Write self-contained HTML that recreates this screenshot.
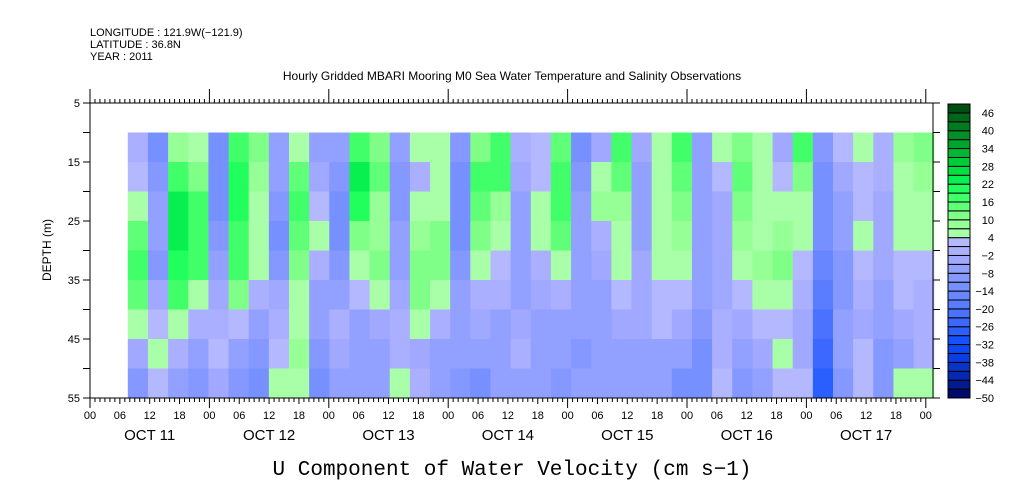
<!DOCTYPE html>
<html><head><meta charset="utf-8"><style>
body{margin:0;background:#fff;width:1009px;height:504px;overflow:hidden}
svg{display:block}
text{font-family:"Liberation Sans",sans-serif;fill:#000}
</style></head><body>
<svg id="chart" width="1009" height="504" viewBox="0 0 1009 504">
<text x="90" y="36" font-size="11">LONGITUDE : 121.9W(−121.9)</text>
<text x="90" y="48" font-size="11">LATITUDE : 36.8N</text>
<text x="90" y="60" font-size="11">YEAR : 2011</text>
<text x="512" y="80" font-size="12" text-anchor="middle">Hourly Gridded MBARI Mooring M0 Sea Water Temperature and Salinity Observations</text>
<text x="0" y="0" font-size="12" text-anchor="middle" transform="translate(51,250) rotate(-90)">DEPTH (m)</text>
<text x="512" y="475" font-size="21" text-anchor="middle" style="font-family:'Liberation Mono',monospace">U Component of Water Velocity (cm s−1)</text>
<g id="cells"></g>
<g id="axes"></g>
<g id="cbar"></g>
</svg>
<script>
// column start times (hours since Oct 11 00:00)
const times = [7.6,11.65,15.7,19.75,23.8,27.85,31.9,35.95,40,44.05,48.1,52.15,56.2,60.25,64.3,68.35,72.4,76.45,80.5,84.55,88.6,92.65,96.7,100.75,104.8,108.85,112.9,116.95,121,125.05,129.1,133.15,137.2,141.25,145.3,149.35,153.4,157.45,161.5,165.55];
const timeEnd = 169.6;
const depths = [10,15,20,25,30,35,40,45,50];
const depthEnd = 55;
const row10 = [0,-12,8,6,-14,18,10,-6,4,-6, -8,16,12,-8,4,4,-10,10,18,-2, 2,14,-12,-4,18,-4,6,16,-8,4, 12,6,-4,18,-10,2,4,-2,8,10];
const row15 = [2,-10,18,10,-12,20,8,-8,14,-4, -10,22,14,-10,-2,4,-12,16,16,-4, 2,16,-10,4,14,-6,4,14,-8,2, 14,4,2,10,-12,-4,2,-2,4,8];
const row20 = [4,-8,22,16,-12,20,6,-10,16,2, -12,20,8,-10,4,6,-12,14,8,-6, 4,16,-8,8,8,-6,6,12,-6,-4, 12,4,4,4,-12,-6,2,-4,4,6];
const row25 = [14,-6,22,18,-10,18,6,-12,14,4, -12,12,8,-8,8,12,-12,10,4,-8, 4,14,-8,-2,6,-6,4,8,-6,-4, 8,6,8,4,-14,-8,4,-4,4,4];
const row30 = [16,-10,20,16,-8,18,4,-10,10,-2, -10,6,10,-6,12,10,-10,6,2,-8, -2,4,-6,-4,4,-4,4,4,-6,-4, 4,8,10,2,-16,-10,2,-4,2,2];
const row35 = [14,-4,16,6,-4,10,-2,-4,6,-6, -8,2,4,-4,10,6,-8,0,-2,-6, -4,-2,-6,-6,2,-4,2,2,-6,-4, 2,6,6,-2,-18,-10,-2,-8,2,-2];
const row40 = [4,2,4,-2,-2,2,-6,-2,4,-8, -2,-6,-4,-2,4,-2,-8,-4,-6,-4, -6,-6,-8,-6,-4,-4,2,-4,-10,-2, -4,2,2,-4,-22,-8,-4,-8,-4,-2];
const row45 = [-4,4,-2,-6,2,-6,-10,2,8,-10, -4,-8,-6,0,-4,-6,-6,-8,-8,-2, -8,-8,-10,-8,-8,-8,-6,-8,-12,-2, -8,-4,4,-4,-26,-6,2,-10,-6,0];
const row50 = [-10,2,-6,-10,-4,-10,-12,4,4,-12, -8,-8,-8,4,-2,-8,-10,-14,-8,-6, -8,-10,-8,-6,-8,-8,-8,-12,-14,2, -10,-8,2,2,-28,-10,2,-10,4,4];
const rows = [row10,row15,row20,row25,row30,row35,row40,row45,row50];
// colour levels: lower bounds, step 3 from -50
const levelColors = ['#000a6e','#001a90','#0628b0','#0a34c8','#0a3ee0','#0c48f4','#1452ff','#2a5eff','#3c68ff','#4a72ff','#5a7cff','#6886ff','#7690ff','#8498ff','#92a0ff','#a0a8ff','#aab0ff','#b4b8ff','#a8ffa8','#96ff96','#80ff88','#60ff78','#40ff68','#20ff5c','#08f050','#00e040','#00cc38','#00b832','#00a42c','#009026','#007c20','#00661a','#004c12'];
const cbLabels = [46,40,34,28,22,16,10,4,-2,-8,-14,-20,-26,-32,-38,-44,-50];

const NS='http://www.w3.org/2000/svg';
const X0=90, X1=933, Y0=103, Y1=398;
function xs(h){return 90 + h*119.4/24;}
function ys(d){return Y0 + (d-5)*(Y1-Y0)/50;}
function colorOf(v){let i=Math.floor((v+50)/3);i=Math.max(0,Math.min(levelColors.length-1,i));return levelColors[i];}
function mk(tag,attrs,parent){const e=document.createElementNS(NS,tag);for(const k in attrs)e.setAttribute(k,attrs[k]);parent.appendChild(e);return e;}

const cells=document.getElementById('cells');
rows.forEach((row,r)=>{
  const ya=ys(depths[r]), yb=ys(r+1<depths.length?depths[r+1]:depthEnd);
  row.forEach((v,c)=>{
    const xa=xs(times[c]), xb=xs(c+1<times.length?times[c+1]:timeEnd);
    const el=mk('rect',{x:xa,y:ya,width:xb-xa+0.5,height:yb-ya+0.5,fill:colorOf(v)},cells);
    
    
  });
});

const ax=document.getElementById('axes');
const ln=(x1,y1,x2,y2)=>mk('line',{x1,y1,x2,y2,stroke:'#000','stroke-width':1},ax);
ln(X0,Y0,X1,Y0);ln(X0,Y1,X1,Y1);ln(X0,Y0,X0,Y1);ln(X1,Y0,X1,Y1);
for(let d=5;d<=55;d+=5){
  const y=ys(d);ln(X0-7,y,X0,y);ln(X1,y,X1+7,y);
  if((d-5)%10===0){
    const t=mk('text',{x:X0-10,y:y+4,'font-size':11,'text-anchor':'end'},ax);t.textContent=d;
    
    
  }
}
const hourLabels=['00','06','12','18'];
for(let h=0;h<=168;h++){
  const x=xs(h);
  const big=h%24===0, mid=h%6===0;
  ln(x,Y0,x,Y0-(big?14:4));
  ln(x,Y1,x,Y1+(big?10:(mid?6:4)));
  if(mid){
    const t=mk('text',{x:x,y:Y1+21,'font-size':11,'text-anchor':'middle'},ax);t.textContent=hourLabels[(h/6)%4];
    
    
  }
}
const dayLabels=['OCT 11','OCT 12','OCT 13','OCT 14','OCT 15','OCT 16','OCT 17'];
dayLabels.forEach((s,i)=>{
  const t=mk('text',{x:xs(i*24+12),y:440,'font-size':15,'text-anchor':'middle'},ax);t.textContent=s;
  
  
});

const cb=document.getElementById('cbar');
const CX=948,CW=22,CT=104,CB=398,n=levelColors.length,ch=(CB-CT)/n;
levelColors.forEach((c,i)=>{
  const el=mk('rect',{x:CX,y:CB-(i+1)*ch,width:CW,height:ch,fill:c,stroke:'#000','stroke-width':1},cb);
  
  
});
cbLabels.forEach(v=>{
  const y=CB-(v+50)/3*ch;
  const t=mk('text',{x:994,y:y+4,'font-size':11,'text-anchor':'end'},cb);t.textContent=String(v).replace('-','−');
  
  
});
</script>
</body></html>
